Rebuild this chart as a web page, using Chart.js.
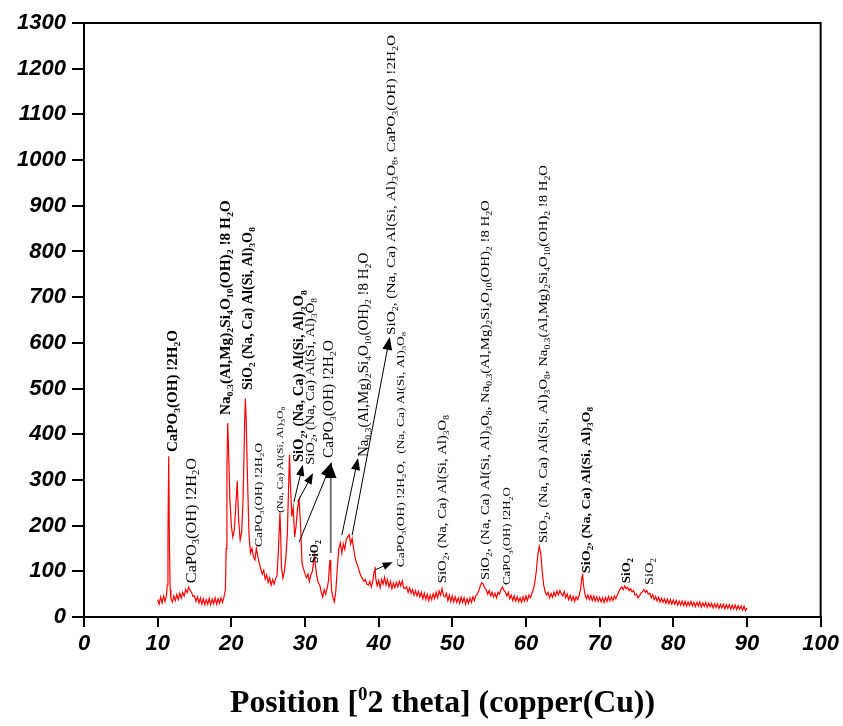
<!DOCTYPE html>
<html>
<head>
<meta charset="utf-8">
<script src="https://cdn.jsdelivr.net/npm/chart.js@4.4.1/dist/chart.umd.min.js"></script>
<style>
  body { margin: 0; background: #fff; }
  #xrd { display: block; }
</style>
</head>
<body>
<canvas id="xrd" width="843" height="726"></canvas>
<script>
// XRD pattern, 2theta (deg) vs counts
const pattern = [
 [10.0,38],[10.2,28],[10.4,44],[10.6,31],[10.8,46],[11.0,34],[11.2,48],[11.3,70],[11.4,180],[11.5,352],[11.6,150],[11.7,60],[11.8,40],
 [12.0,33],[12.2,46],[12.4,36],[12.6,49],[12.8,38],[13.0,52],[13.2,41],[13.4,54],[13.6,46],[13.8,60],[14.0,53],[14.2,65],[14.4,58],
 [14.6,54],[14.8,45],[15.0,46],[15.2,34],[15.4,44],[15.6,31],[15.8,42],[16.0,28],[16.2,40],[16.4,27],[16.6,38],[16.8,28],[17.0,41],
 [17.2,27],[17.4,39],[17.6,29],[17.8,42],[18.0,28],[18.2,40],[18.4,30],[18.6,42],[18.8,32],[19.0,44],[19.2,60],[19.3,150],[19.4,320],
 [19.5,424],[19.6,380],[19.8,260],[20.0,200],[20.2,175],[20.4,190],[20.6,240],[20.8,298],[21.0,210],[21.2,168],[21.4,185],[21.6,260],
 [21.8,420],[21.9,478],[22.0,440],[22.2,300],[22.4,180],[22.6,140],[22.8,150],[23.0,132],[23.2,125],[23.4,150],[23.6,132],[23.8,118],
 [24.0,105],[24.2,94],[24.4,102],[24.6,83],[24.8,92],[25.0,76],[25.2,86],[25.4,70],[25.6,82],[25.8,72],[26.0,84],[26.2,90],[26.4,150],
 [26.6,228],[26.7,180],[26.8,110],[27.0,85],[27.2,100],[27.4,130],[27.6,180],[27.8,300],[27.9,355],[28.0,300],[28.2,220],[28.4,240],
 [28.6,175],[28.8,200],[29.0,240],[29.2,256],[29.4,200],[29.6,118],[29.8,105],[30.0,95],[30.2,86],[30.4,94],[30.6,78],[30.8,92],
 [31.0,100],[31.2,125],[31.3,135],[31.4,115],[31.6,90],[31.8,75],[32.0,70],[32.2,55],[32.4,44],[32.6,60],[32.8,50],[33.0,62],[33.2,80],
 [33.3,110],[33.4,125],[33.5,95],[33.6,60],[33.8,42],[34.0,33],[34.2,60],[34.4,110],[34.6,150],[34.8,162],[35.0,140],[35.2,160],
 [35.4,148],[35.6,170],[35.8,175],[36.0,180],[36.2,160],[36.4,172],[36.6,150],[36.8,130],[37.0,118],[37.2,110],[37.4,98],[37.6,90],
 [37.8,84],[38.0,78],[38.2,82],[38.4,72],[38.6,70],[38.8,78],[39.0,66],[39.2,78],[39.4,100],[39.5,110],[39.6,85],[39.8,68],[40.0,80],
 [40.2,64],[40.4,82],[40.6,72],[40.8,87],[41.0,70],[41.2,82],[41.4,66],[41.6,78],[41.8,62],[42.0,74],[42.2,64],[42.4,76],[42.6,66],
 [42.8,78],[43.0,68],[43.2,79],[43.4,64],[43.6,62],[43.8,66],[44.0,54],[44.2,64],[44.4,52],[44.6,60],[44.8,48],[45.0,58],[45.2,46],
 [45.4,56],[45.6,44],[45.8,54],[46.0,40],[46.2,52],[46.4,38],[46.6,50],[46.8,36],[47.0,48],[47.2,38],[47.4,51],[47.6,40],[47.8,54],
 [48.0,42],[48.2,57],[48.4,48],[48.6,62],[48.8,46],[49.0,44],[49.2,52],[49.4,36],[49.6,48],[49.8,34],[50.0,46],[50.2,33],[50.4,44],
 [50.6,32],[50.8,42],[51.0,30],[51.2,44],[51.4,32],[51.6,42],[51.8,28],[52.0,40],[52.2,30],[52.4,42],[52.6,32],[52.8,44],[53.0,36],
 [53.2,47],[53.4,50],[53.6,58],[53.8,68],[54.0,75],[54.2,72],[54.4,64],[54.6,60],[54.8,50],[55.0,58],[55.2,46],[55.4,54],[55.6,44],
 [55.8,52],[56.0,42],[56.2,54],[56.4,50],[56.6,60],[56.8,66],[57.0,58],[57.2,55],[57.4,46],[57.6,54],[57.8,40],[58.0,48],[58.2,36],
 [58.4,46],[58.6,34],[58.8,44],[59.0,33],[59.2,42],[59.4,32],[59.6,44],[59.8,34],[60.0,46],[60.2,36],[60.4,48],[60.6,42],[60.8,52],
 [61.0,60],[61.2,75],[61.4,100],[61.6,135],[61.8,155],[62.0,140],[62.2,100],[62.4,70],[62.6,55],[62.8,48],[63.0,54],[63.2,42],[63.4,52],
 [63.6,43],[63.8,54],[64.0,46],[64.2,57],[64.4,48],[64.6,58],[64.8,50],[65.0,46],[65.2,56],[65.4,42],[65.6,50],[65.8,38],[66.0,47],
 [66.2,36],[66.4,45],[66.6,34],[66.8,44],[67.0,38],[67.2,46],[67.4,60],[67.6,88],[67.7,92],[67.8,70],[68.0,50],[68.2,40],[68.4,48],
 [68.6,38],[68.8,47],[69.0,36],[69.2,46],[69.4,35],[69.6,44],[69.8,34],[70.0,43],[70.2,33],[70.4,42],[70.6,32],[70.8,43],[71.0,34],
 [71.2,45],[71.4,35],[71.6,44],[71.8,36],[72.0,46],[72.2,40],[72.4,48],[72.6,55],[72.8,62],[73.0,66],[73.2,60],[73.4,68],[73.6,62],
 [73.8,65],[74.0,58],[74.2,62],[74.4,55],[74.6,58],[74.8,48],[75.0,50],[75.2,42],[75.4,46],[75.6,52],[75.8,55],[76.0,60],[76.2,54],
 [76.4,58],[76.6,50],[76.8,52],[77.0,42],[77.2,49],[77.4,38],[77.6,45],[77.8,35],[78.0,43],[78.2,33],[78.4,41],[78.6,32],[78.8,40],
 [79.0,30],[79.2,39],[79.4,29],[79.6,38],[79.8,28],[80.0,37],[80.2,28],[80.4,36],[80.6,26],[80.8,35],[81.0,26],[81.2,35],[81.4,25],
 [81.6,34],[81.8,24],[82.0,33],[82.2,25],[82.4,34],[82.6,24],[82.8,32],[83.0,23],[83.2,32],[83.4,24],[83.6,33],[83.8,22],[84.0,31],
 [84.2,23],[84.4,32],[84.6,21],[84.8,30],[85.0,22],[85.2,30],[85.4,20],[85.6,29],[85.8,21],[86.0,29],[86.2,19],[86.4,28],[86.6,20],
 [86.8,28],[87.0,18],[87.2,27],[87.4,19],[87.6,27],[87.8,17],[88.0,26],[88.2,18],[88.4,26],[88.6,16],[88.8,25],[89.0,17],[89.2,24],
 [89.4,15],[89.6,24],[89.8,14],[90.0,20]
]

var xTitle = 'Position [' // + superscript 0 + rest
var xTitleSup = '0'
var xTitleRest = '2 theta] (copper(Cu))'

// phase labels: x (2theta), from / to (counts), text with _ subscripts
const labels = [
 {x: 12.1,  from: 361, to: 628,  size: 14, bold: true,  text: 'CaPO_3(OH) !2H_2O'},
 {x: 14.65, from: 74,  to: 348,  size: 15, bold: false, text: 'CaPO_3(OH) !2H_2O'},
 {x: 19.3,  from: 442, to: 912,  size: 14, bold: true,  text: 'Na_{0.3}(Al,Mg)_2Si_4O_{10}(OH)_2 !8 H_2O'},
 {x: 22.25, from: 497, to: 853,  size: 14, bold: true,  text: 'SiO_2 (Na, Ca) Al(Si, Al)_3O_8'},
 {x: 23.75, from: 153, to: 381,  size: 11, bold: false, text: 'CaPO_3(OH) !2H_2O'},
 {x: 26.7,  from: 228, to: 460,  size: 9,  bold: false, text: '(Na, Ca) Al(Si, Al)_3O_8'},
 {x: 29.3,  from: 339, to: 715,  size: 14, bold: true,  text: 'SiO_2, (Na, Ca) Al(Si, Al)_3O_8'},
 {x: 30.8,  from: 333, to: 698,  size: 13, bold: false, text: 'SiO_2, (Na, Ca) Al(Si, Al)_3O_8'},
 {x: 33.25, from: 348, to: 606,  size: 14, bold: false, text: 'CaPO_3(OH) !2H_2O'},
 {x: 31.35, from: 118, to: 168,  size: 13, bold: true,  text: 'SiO_2'},
 {x: 38.0,  from: 350, to: 797,  size: 14, bold: false, text: 'Na_{0.3}(Al,Mg)_2Si_4O_{10}(OH)_2 !8 H_2O'},
 {x: 41.8,  from: 617, to: 1274, size: 13, bold: false, text: 'SiO_2, (Na, Ca) Al(Si, Al)_3O_8, CaPO_3(OH) !2H_2O'},
 {x: 43.1,  from: 109, to: 624,  size: 10, bold: false, text: 'CaPO_3(OH) !2H_2O,  (Na, Ca) Al(Si, Al)_3O_8'},
 {x: 48.7,  from: 74,  to: 442,  size: 13, bold: false, text: 'SiO_2, (Na, Ca) Al(Si, Al)_3O_8'},
 {x: 54.5,  from: 81,  to: 912,  size: 13, bold: false, text: 'SiO_2, (Na, Ca) Al(Si, Al)_3O_8, Na_{0.3}(Al,Mg)_2Si_4O_{10}(OH)_2 !8 H_2O'},
 {x: 57.5,  from: 70,  to: 284,  size: 11, bold: false, text: 'CaPO_3(OH) !2H_2O'},
 {x: 62.4,  from: 162, to: 989,  size: 13, bold: false, text: 'SiO_2, (Na, Ca) Al(Si, Al)_3O_8, Na_{0.3}(Al,Mg)_2Si_4O_{10}(OH)_2 !8 H_2O'},
 {x: 68.25, from: 96,  to: 460,  size: 13, bold: true,  text: 'SiO_2, (Na, Ca) Al(Si, Al)_3O_8'},
 {x: 73.7,  from: 74,  to: 129,  size: 13, bold: true,  text: 'SiO_2'},
 {x: 76.8,  from: 70,  to: 129,  size: 13, bold: false, text: 'SiO_2'}
]

// arrows from peak to label: [x1, y1, x2, y2] in 2theta / counts
const arrows = [
 {p: [28.5, 252, 29.7, 333], head: 11, color: '#000'},
 {p: [29.0, 252, 31.1, 315], head: 11, color: '#000'},
 {p: [29.2, 164, 33.65, 339], head: 15, color: '#000'},
 {p: [33.5, 140, 33.5, 337], head: 15, color: '#777'},
 {p: [35.0, 179, 37.2, 348], head: 12, color: '#000'},
 {p: [36.4, 179, 41.5, 613], head: 13, color: '#000'},
 {p: [39.5, 103, 41.9, 120], head: 10, color: '#000'}
]

const tickFont = {family: '"Liberation Sans", Arial, sans-serif', size: 22, weight: 'bold', style: 'italic'}

function parseRich(str) {
    let out = []
    let buf = ''
    let i = 0
    while (i < str.length) {
        if (str[i] === '_') {
            if (buf) { out.push([buf, false]); buf = '' }
            if (str[i + 1] === '{') {
                let j = str.indexOf('}', i)
                out.push([str.slice(i + 2, j), true])
                i = j + 1
            } else {
                out.push([str[i + 1], true])
                i += 2
            }
        } else {
            buf += str[i]
            i++
        }
    }
    if (buf) out.push([buf, false])
    return out
}

function richWidth(ctx, parts, size, bold) {
    let w = 0
    parts.forEach(([s, sub]) => {
        ctx.font = (bold ? 'bold ' : '') + (sub ? size * 0.65 : size) + 'px "Liberation Serif"'
        w += ctx.measureText(s).width
    })
    return w
}

// vertical label reading bottom to top, fitted between two heights
function drawLabel(ctx, lab, xs, ys) {
    let parts = parseRich(lab.text)
    let px = xs.getPixelForValue(lab.x)
    let y0 = ys.getPixelForValue(lab.from)
    let y1 = ys.getPixelForValue(lab.to)
    let want = y0 - y1
    let w = richWidth(ctx, parts, lab.size, lab.bold)
    ctx.save()
    ctx.translate(px, y0)
    ctx.rotate(-Math.PI / 2)
    ctx.scale(want / w, 1)
    ctx.fillStyle = '#000'
    ctx.textBaseline = 'middle'
    ctx.textAlign = 'left'
    let pos = 0
    parts.forEach(([s, sub]) => {
        let fs = sub ? lab.size * 0.65 : lab.size
        ctx.font = (lab.bold ? 'bold ' : '') + fs + 'px "Liberation Serif"'
        ctx.fillText(s, pos, sub ? lab.size * 0.32 : 0)
        pos += ctx.measureText(s).width
    })
    ctx.restore()
}

function drawArrow(ctx, a, xs, ys) {
    let x1 = xs.getPixelForValue(a.p[0]), y1 = ys.getPixelForValue(a.p[1])
    let x2 = xs.getPixelForValue(a.p[2]), y2 = ys.getPixelForValue(a.p[3])
    let ang = Math.atan2(y2 - y1, x2 - x1)
    let h = a.head
    ctx.save()
    ctx.strokeStyle = a.color
    ctx.lineWidth = a.color === '#000' ? 1 : 2
    ctx.beginPath()
    ctx.moveTo(x1, y1)
    ctx.lineTo(x2 - Math.cos(ang) * h * 0.8, y2 - Math.sin(ang) * h * 0.8)
    ctx.stroke()
    ctx.fillStyle = '#000'
    ctx.beginPath()
    ctx.moveTo(x2, y2)
    ctx.lineTo(x2 - h * Math.cos(ang) + h * 0.38 * Math.sin(ang), y2 - h * Math.sin(ang) - h * 0.38 * Math.cos(ang))
    ctx.lineTo(x2 - h * Math.cos(ang) - h * 0.38 * Math.sin(ang), y2 - h * Math.sin(ang) + h * 0.38 * Math.cos(ang))
    ctx.closePath()
    ctx.fill()
    ctx.restore()
}

const extras = {
    id: 'extras',
    afterDatasetsDraw(chart) {
        let ctx = chart.ctx
        let xs = chart.scales.x
        let ys = chart.scales.y
        let area = chart.chartArea
        // frame top + right
        ctx.save()
        ctx.strokeStyle = '#000'
        ctx.lineWidth = 2
        ctx.beginPath()
        ctx.moveTo(area.left, area.top)
        ctx.lineTo(area.right, area.top)
        ctx.lineTo(area.right, area.bottom)
        ctx.stroke()
        ctx.restore()

        labels.forEach((lab) => drawLabel(ctx, lab, xs, ys))
        arrows.forEach((a) => drawArrow(ctx, a, xs, ys))

        // x title with raised 0
        ctx.save()
        let big = 'bold 32px "Liberation Serif"'
        let small = 'bold 19px "Liberation Serif"'
        ctx.font = big
        let w1 = ctx.measureText(xTitle).width
        let w3 = ctx.measureText(xTitleRest).width
        ctx.font = small
        let w2 = ctx.measureText(xTitleSup).width
        let fit = 425 / (w1 + w2 + w3)
        ctx.translate(230, 712)
        ctx.scale(fit, 1)
        ctx.fillStyle = '#000'
        ctx.textBaseline = 'alphabetic'
        ctx.font = big
        ctx.fillText(xTitle, 0, 0)
        ctx.font = small
        ctx.fillText(xTitleSup, w1, -12)
        ctx.font = big
        ctx.fillText(xTitleRest, w1 + w2, 0)
        ctx.restore()
    }
}

const xrdChart = new Chart(document.getElementById('xrd').getContext('2d'), {
    type: 'scatter',
    data: {
        datasets: [{
            data: pattern.map(([t, c]) => ({x: t, y: c})),
            showLine: true,
            borderColor: '#ff0000',
            borderWidth: 1.2,
            pointRadius: 0,
            tension: 0
        }]
    },
    options: {
        responsive: false,
        animation: false,
        events: [],
        layout: {padding: {top: 23, right: 22, left: 0, bottom: 0}},
        plugins: {legend: {display: false}, tooltip: {enabled: false}},
        scales: {
            x: {
                type: 'linear', min: 0, max: 100,
                ticks: {stepSize: 10, color: '#000', font: tickFont, padding: 4, maxRotation: 0,
                    callback: (v) => String(v)},
                grid: {drawOnChartArea: false, tickLength: 10, color: '#000', lineWidth: 2},
                border: {color: '#000', width: 2},
                afterFit(s) { s.height = 109 }
            },
            y: {
                min: 0, max: 1300,
                ticks: {stepSize: 100, color: '#000', font: tickFont, padding: 6,
                    callback: (v) => String(v)},
                grid: {drawOnChartArea: false, tickLength: 12, color: '#000', lineWidth: 2},
                border: {color: '#000', width: 2},
                afterFit(s) { s.width = 84 }
            }
        }
    },
    plugins: [extras]
})
</script>
</body>
</html>
